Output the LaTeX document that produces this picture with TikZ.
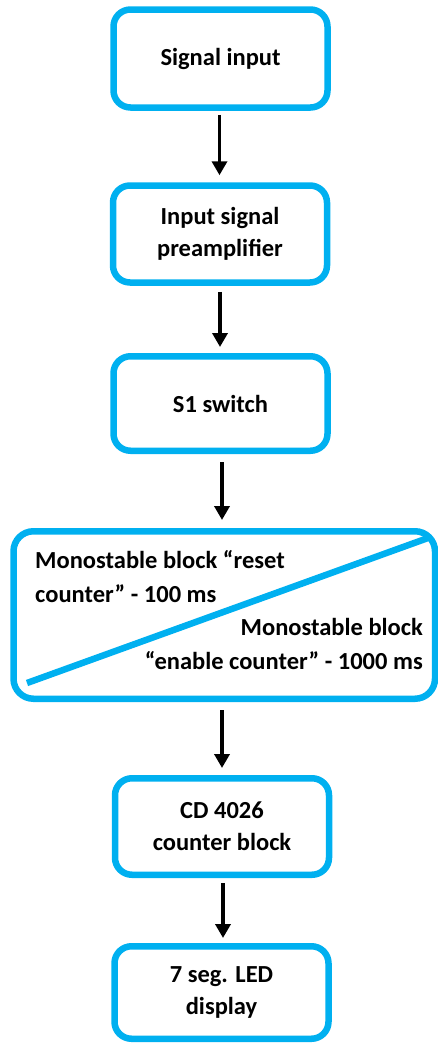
\documentclass[tikz,border=0pt]{standalone}
\usepackage{fontspec}
\setmainfont{Carlito}
\usetikzlibrary{arrows.meta,calc}
\definecolor{boxblue}{RGB}{0,176,240}
\tikzset{
  x=1pt, y=-1pt,
  blockbox/.style={draw=boxblue, line width=6.5pt, rounded corners=17pt, fill=white,
    minimum width=214pt, minimum height=#1, align=center, inner sep=0pt,
    font=\fontsize{24.5}{32}\selectfont\bfseries},
  blockbox/.default=98pt,
  flowarrow/.style={draw=black, line width=3.5pt, -{Triangle[width=15pt,length=14pt]}},
  monotext/.style={inner sep=0pt, font=\fontsize{24.5}{34}\selectfont\bfseries}
}
\begin{document}
\begin{tikzpicture}
\useasboundingbox (0,0) rectangle (438,1044);
\node[blockbox=98pt] (b1) at (220.5,58.5) {Signal input};
\node[blockbox=97pt] (b2) at (220,234) {Input signal\\preamplifier};
\node[blockbox=94.5pt] (b3) at (220.5,403.5) {S1 switch};
\node[draw=boxblue, line width=6.5pt, rounded corners=20pt, minimum width=421.5pt, minimum height=167.5pt, inner sep=0pt] (b4) at (224.25,615) {};
\node[blockbox=96.5pt] (b5) at (222,826.5) {CD 4026\\counter block};
\node[blockbox=92.5pt] (b6) at (221.5,992.5) {7 seg. LED\\display};
\coordinate (dl) at (27,683);
\coordinate (dr) at (428,538);
\draw[boxblue, line width=6.5pt] (dl) -- (dr);
\node[monotext, anchor=base west] (m1) at (35,568) {Monostable block “reset};
\node[monotext, anchor=base west] (m2) at (35,602) {counter” - 100 ms};
\node[monotext, anchor=base east] (m3) at (423,635) {Monostable block};
\node[monotext, anchor=base east] (m4) at (423,669) {“enable counter” - 1000 ms};
\draw[flowarrow] ($(b1.south)+(-1,4)$) -- ($(b1.south |- b2.north)+(-1,-7)$);
\draw[flowarrow] ($(b2.south)+(0,6)$) -- ($(b2.south |- b3.north)+(0,-6)$);
\draw[flowarrow] ($(b3.south)+(1.5,8)$) -- ($(b3.south |- b4.north)+(1.5,-8)$);
\draw[flowarrow] ($(b5.north |- b4.south)+(0,8)$) -- ($(b5.north)+(0,-7)$);
\draw[flowarrow] ($(b5.south)+(1,5)$) -- ($(b5.south |- b6.north)+(1,-5)$);
\end{tikzpicture}
\end{document}
